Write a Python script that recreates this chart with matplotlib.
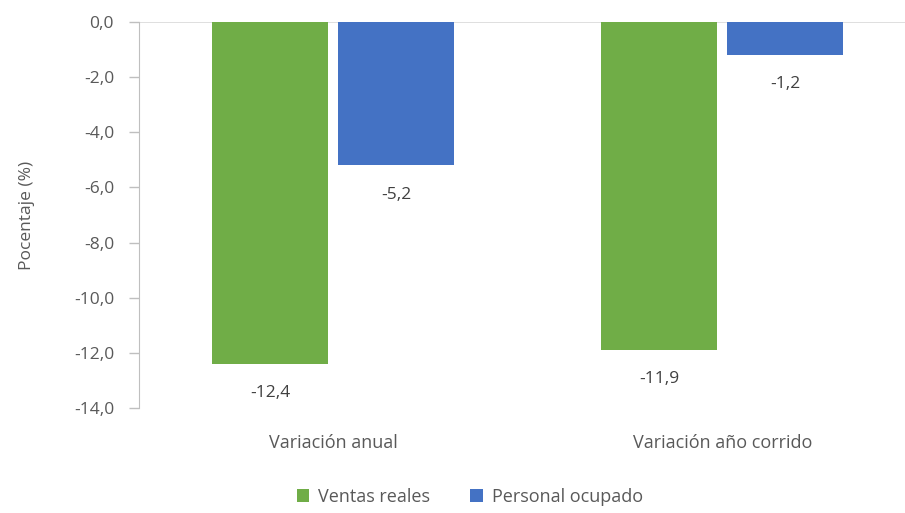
import numpy as np
import matplotlib.pyplot as plt

categories = ["Variación anual", "Variación año corrido"]
ventas = [-12.4, -11.9]
personal = [-5.2, -1.2]
series_names = ["Ventas reales", "Personal ocupado"]
colors = ["#70AD47", "#4472C4"]

plt.rcParams['font.family'] = ['Open Sans', 'DejaVu Sans']
txt = "#595959"
fs = 12.5

fig = plt.figure(figsize=(9.05, 5.13), dpi=100)
ax = fig.add_axes([0.1536, 0.2047, 1 - 0.1536, 0.957 - 0.2047])

x = np.arange(len(categories))
w = 0.298
off = 0.162
for vals, name, c, dx in zip([ventas, personal], series_names, colors, [-off, off]):
    bars = ax.bar(x + dx, vals, w, color=c, label=name)
    for b, v in zip(bars, vals):
        ax.annotate(f"{v:.1f}".replace(".", ","), (b.get_x() + b.get_width() / 2, v),
                    xytext=(0, -21), textcoords="offset points",
                    ha="center", va="center", fontsize=fs, color="#404040")

ax.set_xlim(-0.5, 1.47)
ax.set_ylim(-14, 0)
ax.set_yticks(np.arange(-14, 0.1, 2))
ax.set_yticklabels([f"{t:.1f}".replace(".", ",") for t in np.arange(-14, 0.1, 2)])
ax.axhline(0, color="#D9D9D9", lw=1.2, zorder=0)
ax.set_xticks(x)
ax.set_xticklabels(categories)
ax.tick_params(axis="x", length=0, pad=19, labelsize=13, labelcolor=txt)
ax.tick_params(axis="y", length=7, width=1, color="#BFBFBF", labelsize=fs, labelcolor=txt, pad=11)
for s in ["top", "right", "bottom"]:
    ax.spines[s].set_visible(False)
ax.spines["left"].set_color("#BFBFBF")
ax.set_ylabel("Pocentaje (%)", fontsize=fs, color=txt, labelpad=28)

fig.legend(loc="center", bbox_to_anchor=(0.519, 0.031), ncol=2, frameon=False,
           fontsize=13, labelcolor=txt, handlelength=0.7, handleheight=0.7,
           handletextpad=0.5, columnspacing=2.2)

fig.savefig("out.png", dpi=100)
